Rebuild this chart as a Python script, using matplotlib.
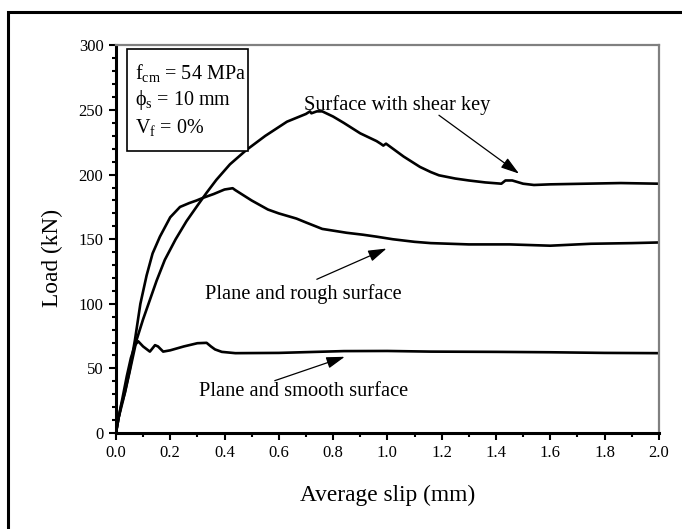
import matplotlib
matplotlib.use("Agg")
import matplotlib.pyplot as plt
from matplotlib.patches import Rectangle
from matplotlib.ticker import MultipleLocator

plt.rcParams['font.family'] = ['Liberation Serif', 'DejaVu Serif']
plt.rcParams['mathtext.fontset'] = 'custom'
plt.rcParams['mathtext.rm'] = 'Liberation Serif'
plt.rcParams['mathtext.it'] = 'Liberation Serif:italic'

# Surface with shear key
key_x = [0.0, 0.01, 0.02, 0.033, 0.05, 0.076, 0.1, 0.125, 0.15, 0.18, 0.22, 0.26, 0.3, 0.334,
         0.37, 0.42, 0.48, 0.55, 0.63, 0.7, 0.715, 0.72, 0.74, 0.76, 0.8, 0.84, 0.9, 0.96,
         0.975, 0.985, 0.995, 1.06, 1.12, 1.16, 1.19, 1.25, 1.3, 1.36, 1.42, 1.435, 1.46,
         1.5, 1.54, 1.6, 1.73, 1.86, 2.0]
key_y = [0, 12, 22, 31, 47, 72, 88, 103, 118, 134, 150, 164, 176, 186,
         196, 208, 219, 230, 241, 247, 249, 247.5, 249, 249, 245, 240, 232, 226,
         224, 222.5, 224, 214, 206, 202, 199.5, 197, 195.5, 194, 193, 195.5, 195.5,
         193, 192, 192.5, 193, 193.5, 193]

# Plane and rough surface
rough_x = [0, 0.01, 0.027, 0.05, 0.07, 0.09, 0.113, 0.135, 0.162, 0.2, 0.236, 0.27, 0.297,
           0.32, 0.36, 0.4, 0.43, 0.44, 0.5, 0.56, 0.6, 0.665, 0.7, 0.76, 0.85, 0.91, 0.96,
           1.02, 1.1, 1.16, 1.3, 1.45, 1.6, 1.75, 1.9, 2.0]
rough_y = [0, 12, 26, 48, 72, 100, 122, 139, 152, 167, 175, 178, 180,
           182, 185, 188.5, 189.5, 188, 180, 173, 170, 166, 163, 158, 155, 153.5, 152,
           150, 148, 147, 146, 146, 145, 146.5, 147, 147.5]

# Plane and smooth surface
smooth_x = [0, 0.01, 0.025, 0.04, 0.055, 0.07, 0.082, 0.1, 0.125, 0.144, 0.155, 0.174, 0.2,
            0.25, 0.3, 0.334, 0.35, 0.365, 0.39, 0.44, 0.6, 0.84, 1.0, 1.16, 1.4, 1.6, 1.8, 2.0]
smooth_y = [0, 12, 28, 44, 58, 68, 71, 67, 63, 68, 67, 63, 64,
            67, 69.5, 69.8, 67, 64.7, 62.8, 61.8, 62, 63.4, 63.5, 63, 62.8, 62.5, 62, 61.8]

fig = plt.figure(figsize=(6.82, 5.29), dpi=100)
ax = fig.add_axes([0.170, 0.1815, 0.796, 0.7325])

for xs, ys in [(key_x, key_y), (rough_x, rough_y), (smooth_x, smooth_y)]:
    ax.plot(xs, ys, color='black', lw=1.9, solid_joinstyle='round')

ax.set_xlim(0, 2.0)
ax.set_ylim(0, 300)
ax.xaxis.set_major_locator(MultipleLocator(0.2))
ax.xaxis.set_minor_locator(MultipleLocator(0.1))
ax.yaxis.set_major_locator(MultipleLocator(50))
ax.yaxis.set_minor_locator(MultipleLocator(10))
ax.set_xticklabels([f"{v:.1f}" for v in ax.get_xticks()])
ax.tick_params(which='major', direction='out', length=5, width=1.5, labelsize=12, pad=4)
ax.tick_params(which='minor', direction='out', length=3, width=1.5)

for s in ['left', 'bottom']:
    ax.spines[s].set_linewidth(2.2)
    ax.spines[s].set_color('black')
for s in ['top', 'right']:
    ax.spines[s].set_linewidth(1.6)
    ax.spines[s].set_color('#808080')

ax.set_xlabel('Average slip (mm)', fontsize=16.8, labelpad=17)
ax.set_ylabel('Load (kN)', fontsize=16.8)
ax.yaxis.set_label_coords(-0.098, 0.451)

# Parameter box
ax.add_patch(Rectangle((0.02, 0.729), 0.223, 0.261, transform=ax.transAxes,
                       facecolor='white', edgecolor='black', lw=1.2, zorder=3))
box_lines = [r'f$_{\rm cm}$ = 54 MPa', r'ϕ$_{\rm s}$ = 10 mm', r'V$_{\rm f}$ = 0%']
for i, s in enumerate(box_lines):
    ax.text(0.035, 0.930 - i * 0.071, s, transform=ax.transAxes, fontsize=14.5,
            va='center', ha='left', zorder=4)

# Annotations
arrowprops = dict(arrowstyle='-|>,head_length=0.7,head_width=0.22', color='black',
                  lw=0.9, mutation_scale=16, shrinkA=0, shrinkB=0)
ax.annotate('', xy=(1.485, 200.8), xytext=(1.19, 246), arrowprops=arrowprops)
ax.text(1.035, 254, 'Surface with shear key', fontsize=14.7, ha='center', va='center')
ax.annotate('', xy=(0.997, 142.8), xytext=(0.74, 119), arrowprops=arrowprops)
ax.text(0.69, 107.5, 'Plane and rough surface', fontsize=14.7, ha='center', va='center')
ax.annotate('', xy=(0.843, 59), xytext=(0.585, 40.5), arrowprops=arrowprops)
ax.text(0.69, 32.5, 'Plane and smooth surface', fontsize=14.7, ha='center', va='center')

# Outer figure frame (cropped at right and bottom)
fig.patches.append(Rectangle((8 / 682, -0.1), 1.2, (529 - 12) / 529 + 0.1,
                             transform=fig.transFigure, fill=False,
                             edgecolor='black', lw=2.2))

fig.savefig('out.png', dpi=100)
